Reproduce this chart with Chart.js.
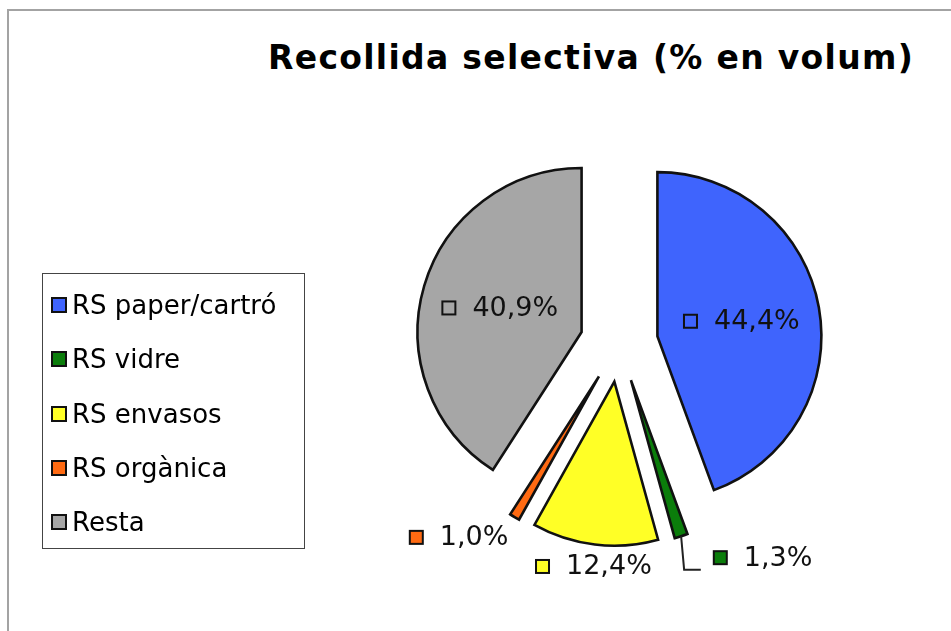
<!DOCTYPE html>
<html>
<head>
<meta charset="utf-8">
<script src="https://cdn.jsdelivr.net/npm/chart.js@4.4.1/dist/chart.umd.min.js"></script>
<style>
  body { margin: 0; background: #fff; font-family: "DejaVu Sans", sans-serif; }
  #wrap { position: relative; width: 951px; height: 631px; overflow: hidden; background: #fff; }
  #frame { position: absolute; left: 7px; top: 9px; width: 960px; height: 640px;
           border-top: 2px solid #a3a3a3; border-left: 2px solid #a3a3a3; }
  #title { position: absolute; left: 231px; top: 38px; width: 720px; text-align: center;
           font: bold 33px "DejaVu Sans", sans-serif; letter-spacing: 1.3px; color: #000; white-space: nowrap; }
  #legend { position: absolute; left: 42px; top: 273px; width: 261px; height: 270px;
            border: 1px solid #444; padding-top: 4px; }
  .row { height: 54.3px; display: flex; align-items: center; padding-left: 8px;
         font-size: 26px; color: #000; white-space: nowrap; }
  .key { width: 12px; height: 12px; border: 2px solid #111; margin-right: 5px; flex: none; }
  canvas { position: absolute; left: 0; top: 0; }
</style>
</head>
<body>
<div id="wrap">
  <div id="frame"></div>
  <div id="title">Recollida selectiva (% en volum)</div>
  <canvas id="pie" width="951" height="631"></canvas>
  <div id="legend"></div>
</div>
<script>
const categories = ['RS paper/cartró', 'RS vidre', 'RS envasos', 'RS orgànica', 'Resta'];
const volumePct = [44.4, 1.3, 12.4, 1.0, 40.9];
const sliceColors = ['#3f64fd', '#0b7d0b', '#ffff26', '#ff6a12', '#a6a6a6'];

const EXPLODE = 39;      // distancia de separacio de cada porcio
const labelShift = [null, [28, 0], null, null, null]; // etiqueta desplaçada amb linia guia

// llegenda
const legend = document.getElementById('legend');
categories.forEach((c, i) => {
    const row = document.createElement('div');
    row.className = 'row';
    row.innerHTML = '<span class="key" style="background:' + sliceColors[i] + '"></span>' + c;
    legend.appendChild(row);
});

const explodePie = {
    id: 'explodePie',
    beforeDatasetDraw(chart, args) {
        const ctx = chart.ctx;
        args.meta.data.forEach(arc => {
            const mid = (arc.startAngle + arc.endAngle) / 2;
            ctx.save();
            ctx.translate(Math.cos(mid) * EXPLODE, Math.sin(mid) * EXPLODE);
            arc.draw(ctx);
            ctx.restore();
        });
        return false;
    }
};

function drawKey(ctx, x, yMid, color) {
    ctx.fillStyle = color;
    ctx.fillRect(x, yMid - 6.5, 13, 13);
    ctx.lineWidth = 2;
    ctx.strokeStyle = '#111';
    ctx.strokeRect(x, yMid - 6.5, 13, 13);
}

const pieLabels = {
    id: 'pieLabels',
    afterDatasetsDraw(chart) {
        const ctx = chart.ctx;
        const meta = chart.getDatasetMeta(0);
        ctx.save();
        ctx.font = '27px "DejaVu Sans", sans-serif';
        ctx.textBaseline = 'middle';
        meta.data.forEach((arc, i) => {
            const v = volumePct[i];
            const txt = v.toFixed(1).replace('.', ',') + '%';
            const tw = ctx.measureText(txt).width;
            const w = 15 + 16 + tw;
            const mid = (arc.startAngle + arc.endAngle) / 2;
            const dx = Math.cos(mid), dy = Math.sin(mid);
            const cx = arc.x + dx * EXPLODE, cy = arc.y + dy * EXPLODE;
            const r = arc.outerRadius;
            let left, yMid;
            if (v > 20) {
                left = cx + dx * r * 0.52 - w / 2;
                yMid = cy + dy * r * 0.52;
            } else {
                const tipX = cx + dx * r, tipY = cy + dy * r;
                const px = tipX + dx * 12, py = tipY + dy * 12;
                if (dx < -0.3) left = px - w;
                else if (dx > 0.3) left = px;
                else left = px - w / 2;
                yMid = py + 10;
                const sh = labelShift[i];
                if (sh) {
                    left += sh[0];
                    yMid += sh[1];
                    ctx.beginPath();
                    ctx.moveTo(tipX, tipY);
                    ctx.lineTo(tipX + 3, yMid + 12);
                    ctx.lineTo(left - 12, yMid + 12);
                    ctx.lineWidth = 2;
                    ctx.strokeStyle = '#222';
                    ctx.stroke();
                }
            }
            drawKey(ctx, left + 1, yMid, sliceColors[i]);
            ctx.fillStyle = '#111';
            ctx.textAlign = 'left';
            ctx.fillText(txt, left + 31, yMid + 1);
        });
        ctx.restore();
    }
};

const ctx = document.getElementById('pie').getContext('2d');
const chart = new Chart(ctx, {
    type: 'pie',
    data: {
        labels: categories,
        datasets: [{
            data: volumePct,
            backgroundColor: sliceColors,
            borderColor: '#111',
            borderWidth: 2.6,
            borderJoinStyle: 'miter'
        }]
    },
    options: {
        responsive: false,
        animation: false,
        radius: 164,
        layout: { padding: { left: 287, right: 0, top: 55, bottom: 0 } },
        plugins: {
            legend: { display: false },
            tooltip: { enabled: false },
            title: { display: false }
        }
    },
    plugins: [explodePie, pieLabels]
});
</script>
</body>
</html>
